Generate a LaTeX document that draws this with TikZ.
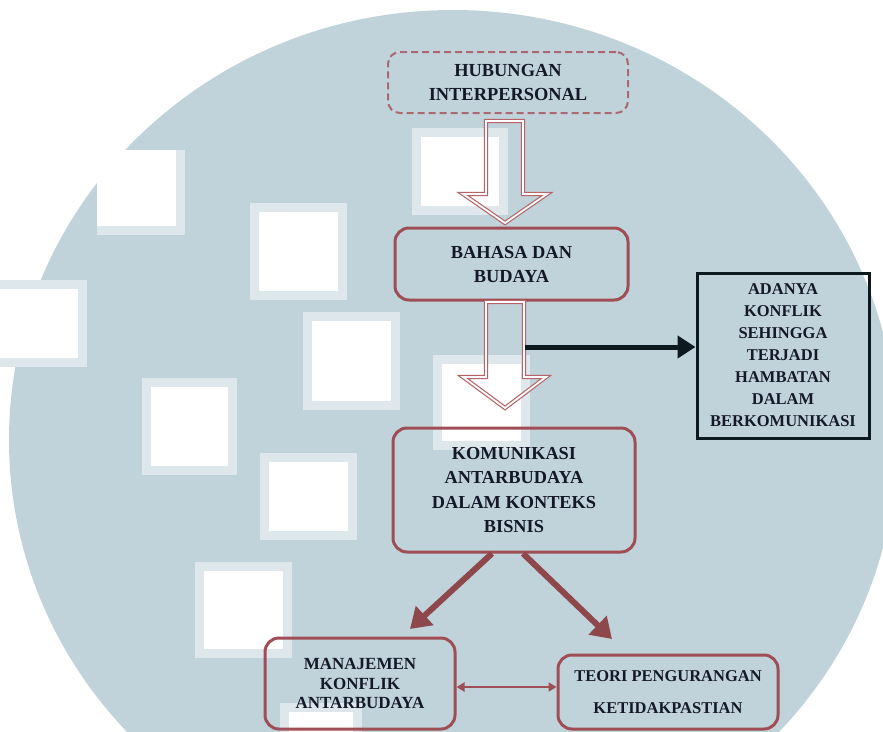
\documentclass[tikz,border=0pt]{standalone}
\usepackage{fontspec}
\setmainfont{Liberation Serif}
\usetikzlibrary{arrows.meta,calc}
\definecolor{bg}{RGB}{193,211,218}
\definecolor{sqband}{RGB}{222,232,236}
\definecolor{boxred}{RGB}{158,78,84}
\definecolor{dashred}{RGB}{170,104,112}
\definecolor{hollowred}{RGB}{182,100,104}
\definecolor{arrred}{RGB}{142,72,76}
\definecolor{txt}{RGB}{20,24,40}
\definecolor{blk}{RGB}{12,26,32}
\begin{document}
\begin{tikzpicture}[x=1pt,y=-1pt,
  rbox/.style={draw=boxred, line width=3pt, rounded corners=14pt, align=center,
    text=txt, inner sep=0pt, font=\bfseries\fontsize{18.4}{24}\selectfont},
  dbox/.style={rbox, draw=dashred, line width=2pt, dash pattern=on 7pt off 4pt, rounded corners=12pt},
  kbox/.style={draw=blk, line width=3pt, align=center, text=txt, inner sep=0pt,
    font=\bfseries\fontsize{16.5}{22}\selectfont},
  hollow/.style={draw=hollowred, line width=1.2pt, double=white, double distance=1.8pt, line join=miter},
  thick arrow/.style={draw=arrred, line width=6pt, -{Triangle[length=20pt,width=25pt]}},
  black arrow/.style={draw=blk, line width=5pt, -{Triangle[length=18pt,width=22pt]}},
  both arrow/.style={draw=boxred, line width=2pt, {Triangle[length=8pt,width=9pt]}-{Triangle[length=8pt,width=9pt]}}
]
\useasboundingbox (0,0) rectangle (883,731);
\fill[white] (0,0) rectangle (883,731);
\begin{scope}
  \clip (0,0) rectangle (883,731);
  \fill[bg] (453,440) ellipse [x radius=444, y radius=430];
  % squares touching the outer edge (band only on inner sides)
  \fill[sqband] (97,150) rectangle (185,235);
  \fill[white] (97,150) rectangle (176,226);
  \fill[sqband] (-20,280) rectangle (87,367);
  \fill[white] (-20,289) rectangle (78,358);
  \foreach \a/\b/\c/\d in {250/203/347/300, 303/312/400/410,
      142/378/237/475, 260/453/357/540, 195/562/292/658, 280/703/362/745,
      412/128/508/215, 433/355/530/450}{
    \fill[sqband] (\a,\b) rectangle (\c,\d);
    \fill[white] (\a+9,\b+9) rectangle (\c-9,\d-9);
  }
\end{scope}

% nodes
\node[dbox, minimum width=240pt, minimum height=61pt] (hub) at (508,82.5) {HUBUNGAN\\INTERPERSONAL};
\node[rbox, minimum width=233pt, minimum height=72pt] (bahasa) at (511.5,264) {BAHASA DAN\\BUDAYA};
\node[rbox, minimum width=242pt, minimum height=124pt, font=\bfseries\fontsize{18.3}{24.5}\selectfont] (kom) at (514,490) {KOMUNIKASI\\ANTARBUDAYA\\DALAM KONTEKS\\BISNIS};
\node[kbox, minimum width=172pt, minimum height=165pt] (adanya) at (783,355.5) {ADANYA\\KONFLIK\\SEHINGGA\\TERJADI\\HAMBATAN\\DALAM\\BERKOMUNIKASI};
\node[rbox, minimum width=190pt, minimum height=91pt, font=\bfseries\fontsize{17}{19.5}\selectfont] (man) at (360,683.5) {MANAJEMEN\\KONFLIK\\ANTARBUDAYA};
\node[rbox, minimum width=220pt, minimum height=74pt, font=\bfseries\fontsize{16.5}{32}\selectfont] (teori) at (668,692) {TEORI PENGURANGAN\\KETIDAKPASTIAN};

% hollow block arrows
\draw[hollow] (486,121) -- (523,121) -- (523,194) -- (547,194) -- (505,223) -- (463,194) -- (486,194) -- cycle;
\draw[hollow] (486,302) -- (524,302) -- (524,377) -- (546,377) -- (505,408) -- (463,377) -- (486,377) -- cycle;

% black arrow
\coordinate (bstart) at (525,347);
\draw[black arrow] (bstart) -- (bstart -| adanya.west);

% thick arrows
\coordinate (tipL) at (410,629);
\coordinate (tipR) at (612,639);
\draw[thick arrow] ($(kom.south)+(-22,0)$) -- (tipL);
\draw[thick arrow] ($(kom.south)+(9,0)$) -- (tipR);

% double arrow
\coordinate (dy) at (0,687);
\draw[both arrow] (man.east |- dy) -- (teori.west |- dy);
\end{tikzpicture}
\end{document}
